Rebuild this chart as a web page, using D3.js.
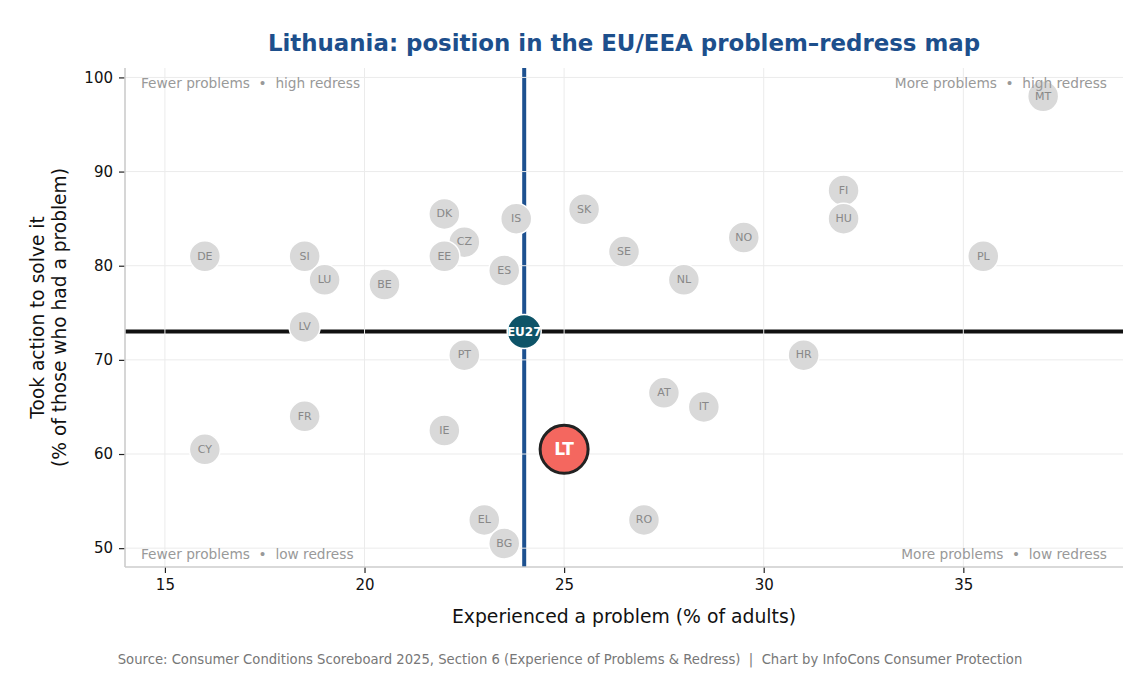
<!DOCTYPE html>
<html>
<head>
<meta charset="utf-8">
<script src="https://cdn.jsdelivr.net/npm/d3@7"></script>
<style>
  body { margin: 0; background: #fff; }
  text { font-family: "DejaVu Sans", sans-serif; white-space: pre; }
</style>
</head>
<body>
<div id="chart"></div>
<script>
// country codes, % experienced a problem, % took action
var codes    = ["DE","SI","LU","BE","DK","CZ","EE","IS","ES","SK","SE","NL","NO","FI","HU","PL","MT",
                "HR","AT","IT","RO","EL","BG","IE","PT","LV","FR","CY"];
var problems = [16.0,18.5,19.0,20.5,22.0,22.5,22.0,23.8,23.5,25.5,26.5,28.0,29.5,32.0,32.0,35.5,37.0,
                31.0,27.5,28.5,27.0,23.0,23.5,22.0,22.5,18.5,18.5,16.0];
var action   = [81.0,81.0,78.5,78.0,85.5,82.5,81.0,85.0,79.5,86.0,81.5,78.5,83.0,88.0,85.0,81.0,98.0,
                70.5,66.5,65.0,53.0,53.0,50.5,62.5,70.5,73.5,64.0,60.5];

var eu27 = {code: "EU27", x: 24.0, y: 73.0};
var lt   = {code: "LT",   x: 25.0, y: 60.5};

var xTicks = [15, 20, 25, 30, 35];
var yTicks = [50, 60, 70, 80, 90, 100];

var W = 1140, H = 675;
var pl = 125, pr = 1123, pt = 68, pb = 567;

var svg = d3.select("#chart").append("svg")
    .attr("width", W).attr("height", H);

var x = d3.scaleLinear().domain([14, 39]).range([pl, pr]);
var y = d3.scaleLinear().domain([48, 101]).range([pb, pt]);

var pts = codes.map(function(c, i) { return {code: c, x: problems[i], y: action[i]}; });

// reference lines (EU averages)
svg.append("line")
    .attr("x1", x(eu27.x)).attr("x2", x(eu27.x))
    .attr("y1", pt).attr("y2", pb)
    .attr("stroke", "#1d5190").attr("stroke-width", 4);
svg.append("line")
    .attr("x1", pl).attr("x2", pr)
    .attr("y1", y(eu27.y)).attr("y2", y(eu27.y))
    .attr("stroke", "#111").attr("stroke-width", 4);

// grid
var grid = svg.append("g");
grid.selectAll(".gx").data(xTicks).enter().append("line")
    .attr("x1", d => x(d)).attr("x2", d => x(d))
    .attr("y1", pt).attr("y2", pb)
    .attr("stroke", "#ebebeb").attr("stroke-width", 1);
grid.selectAll(".gy").data(yTicks).enter().append("line")
    .attr("x1", pl).attr("x2", pr)
    .attr("y1", d => y(d)).attr("y2", d => y(d))
    .attr("stroke", "#ebebeb").attr("stroke-width", 1);

// country bubbles
var g = svg.append("g");
var node = g.selectAll("g.pt").data(pts).enter().append("g")
    .attr("transform", d => "translate(" + x(d.x) + "," + y(d.y) + ")");
node.append("circle").attr("r", 15.5)
    .attr("fill", "#d9d9d9").attr("stroke", "#fff").attr("stroke-width", 1.5);
node.append("text").text(d => d.code)
    .attr("text-anchor", "middle").attr("dy", "0.3em")
    .attr("fill", "#888").style("font-size", "11px");

// EU27
var eu = svg.append("g").attr("transform", "translate(" + x(eu27.x) + "," + y(eu27.y) + ")");
eu.append("circle").attr("r", 17).attr("fill", "#0e5468").attr("stroke", "#fff").attr("stroke-width", 1.5);
eu.append("text").text(eu27.code).attr("text-anchor", "middle").attr("dy", "0.36em")
    .attr("fill", "#fff").style("font-size", "12px").style("font-weight", "bold");

// Lithuania
var ltg = svg.append("g").attr("transform", "translate(" + x(lt.x) + "," + y(lt.y) + ")");
ltg.append("circle").attr("r", 24).attr("fill", "#f4675f").attr("stroke", "#222").attr("stroke-width", 3);
ltg.append("text").text(lt.code).attr("text-anchor", "middle").attr("dy", "0.36em")
    .attr("fill", "#fff").style("font-size", "17px").style("font-weight", "bold");

// quadrant notes
var noteStyle = function(t) {
    t.attr("fill", "#999").style("font-size", "13.7px").attr("dominant-baseline", "middle");
};
svg.append("text").attr("x", pl + 16).attr("y", 84).text("Fewer problems  \u2022  high redress").call(noteStyle);
svg.append("text").attr("x", pr - 16).attr("y", 84).attr("text-anchor", "end").text("More problems  \u2022  high redress").call(noteStyle);
svg.append("text").attr("x", pl + 16).attr("y", 555).text("Fewer problems  \u2022  low redress").call(noteStyle);
svg.append("text").attr("x", pr - 16).attr("y", 555).attr("text-anchor", "end").text("More problems  \u2022  low redress").call(noteStyle);

// axes
var xAxis = svg.append("g").attr("transform", "translate(0," + pb + ")")
    .call(d3.axisBottom(x).tickValues(xTicks).tickSize(6).tickPadding(6));
var yAxis = svg.append("g").attr("transform", "translate(" + pl + ",0)")
    .call(d3.axisLeft(y).tickValues(yTicks).tickSize(6).tickPadding(6));
[xAxis, yAxis].forEach(function(a) {
    a.select(".domain").remove();
    a.selectAll(".tick line").attr("stroke", "#222").attr("stroke-width", 1.2);
    a.selectAll(".tick text").attr("fill", "#111").style("font-size", "15px")
        .style("font-family", "DejaVu Sans, sans-serif");
});
svg.append("line").attr("x1", pl).attr("x2", pl).attr("y1", pt).attr("y2", pb)
    .attr("stroke", "#cccccc").attr("stroke-width", 1.6);
svg.append("line").attr("x1", pl).attr("x2", pr).attr("y1", pb).attr("y2", pb)
    .attr("stroke", "#cccccc").attr("stroke-width", 1.6);

// titles
svg.append("text").attr("x", (pl + pr) / 2).attr("y", 51)
    .attr("text-anchor", "middle").attr("fill", "#1d4f8c")
    .style("font-size", "22.9px").style("font-weight", "bold")
    .text("Lithuania: position in the EU/EEA problem\u2013redress map");

svg.append("text").attr("x", (pl + pr) / 2).attr("y", 623)
    .attr("text-anchor", "middle").attr("fill", "#111").style("font-size", "18.8px")
    .text("Experienced a problem (% of adults)");

var yl = svg.append("text").attr("transform", "translate(44," + ((pt + pb) / 2) + ") rotate(-90)")
    .attr("text-anchor", "middle").attr("fill", "#111").style("font-size", "18.6px");
yl.append("tspan").attr("x", 0).attr("dy", 0).text("Took action to solve it");
yl.append("tspan").attr("x", 0).attr("dy", "1.2em").text("(% of those who had a problem)");

svg.append("text").attr("x", W / 2).attr("y", 664)
    .attr("text-anchor", "middle").attr("fill", "#777").style("font-size", "13.2px")
    .text("Source: Consumer Conditions Scoreboard 2025, Section 6 (Experience of Problems & Redress)  |  Chart by InfoCons Consumer Protection");
</script>
</body>
</html>
